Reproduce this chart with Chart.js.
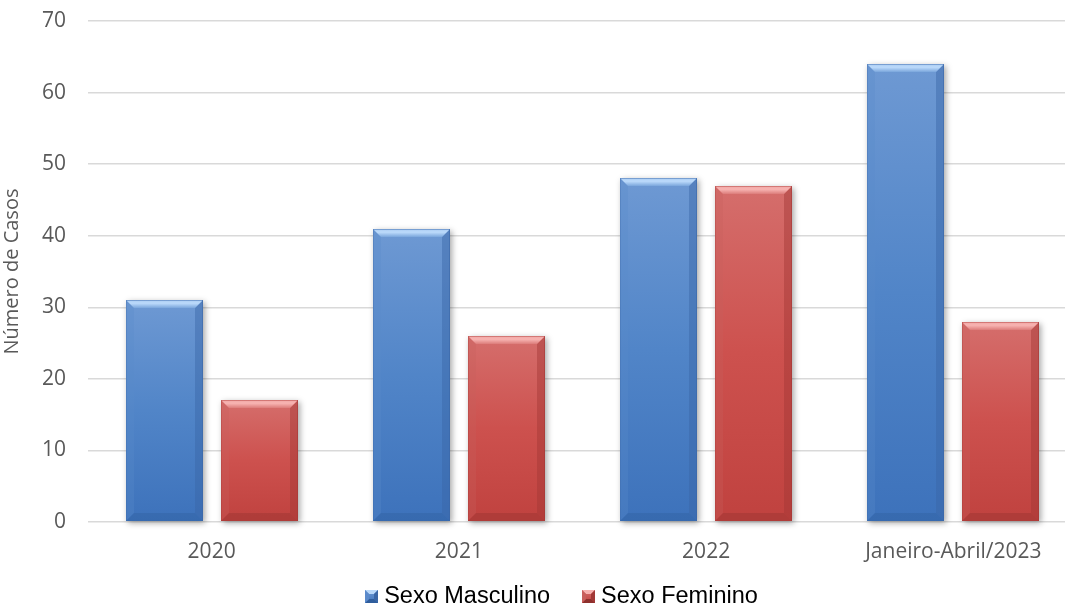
<!DOCTYPE html>
<html>
<head>
<meta charset="utf-8">
<script src="https://cdn.jsdelivr.net/npm/chart.js@4/dist/chart.umd.min.js"></script>
<style>
  html, body { margin: 0; padding: 0; background: #ffffff; overflow: hidden; }
  #wrap { width: 1077px; height: 610px; position: relative; }
</style>
</head>
<body>
<div id="wrap"><canvas id="chart"></canvas></div>
<script>
// Casos por ano e sexo
const categories = ['2020', '2021', '2022', 'Janeiro-Abril/2023'];
const masculino = [31, 41, 48, 64];
const feminino = [17, 26, 47, 28];
const yTicks = [0, 10, 20, 30, 40, 50, 60, 70];
const seriesNames = ['Sexo Masculino', 'Sexo Feminino'];

const palettes = [
  { // azul
    bodyTop: '#6e99d3', bodyMid: '#5185c8', bodyBot: '#3d72bb',
    edge: '#5a85c0', bevelTopA: '#b8d7f9', bevelTopB: '#7aa6dc',
    left: '#5b8acb', right: '#3a66a6', bottom: '#2f5d9c'
  },
  { // vermelho
    bodyTop: '#d56e6c', bodyMid: '#cd514e', bodyBot: '#c0423f',
    edge: '#c45d5b', bevelTopA: '#f6b1af', bevelTopB: '#dc7c7a',
    left: '#c85f5c', right: '#a23836', bottom: '#8e302d'
  }
];

function bevelRect(ctx, x0, x1, y0, y1, p, bev) {
  const b = Math.max(0, Math.min(bev, (y1 - y0) / 2, (x1 - x0) / 2));
  // body with soft drop shadow
  ctx.save();
  ctx.shadowColor = 'rgba(0,0,0,0.35)';
  ctx.shadowBlur = 6;
  ctx.shadowOffsetX = 2;
  ctx.shadowOffsetY = 2;
  const g = ctx.createLinearGradient(0, y0, 0, y1);
  g.addColorStop(0, p.bodyTop);
  g.addColorStop(0.5, p.bodyMid);
  g.addColorStop(1, p.bodyBot);
  ctx.fillStyle = g;
  ctx.fillRect(x0, y0, x1 - x0, y1 - y0);
  ctx.restore();
  if (b <= 0) return;
  ctx.save();
  // left side
  ctx.beginPath();
  ctx.moveTo(x0, y0); ctx.lineTo(x0 + b, y0 + b); ctx.lineTo(x0 + b, y1 - b); ctx.lineTo(x0, y1); ctx.closePath();
  ctx.globalAlpha = 0.3; ctx.fillStyle = p.left; ctx.fill();
  // right side
  ctx.beginPath();
  ctx.moveTo(x1, y0); ctx.lineTo(x1 - b, y0 + b); ctx.lineTo(x1 - b, y1 - b); ctx.lineTo(x1, y1); ctx.closePath();
  ctx.globalAlpha = 0.45; ctx.fillStyle = p.right; ctx.fill();
  // bottom
  ctx.beginPath();
  ctx.moveTo(x0, y1); ctx.lineTo(x0 + b, y1 - b); ctx.lineTo(x1 - b, y1 - b); ctx.lineTo(x1, y1); ctx.closePath();
  ctx.globalAlpha = 0.35; ctx.fillStyle = p.bottom; ctx.fill();
  // top
  ctx.globalAlpha = 1;
  ctx.beginPath();
  ctx.moveTo(x0, y0); ctx.lineTo(x1, y0); ctx.lineTo(x1 - b, y0 + b); ctx.lineTo(x0 + b, y0 + b); ctx.closePath();
  const gt = ctx.createLinearGradient(0, y0, 0, y0 + b);
  gt.addColorStop(0, p.edge);
  gt.addColorStop(0.2, p.bevelTopA);
  gt.addColorStop(0.45, p.bevelTopA);
  gt.addColorStop(1, p.bevelTopB);
  ctx.fillStyle = gt; ctx.fill();
  // thin outline on the sides
  ctx.globalAlpha = 0.55;
  ctx.fillStyle = p.right;
  ctx.fillRect(x1 - 1, y0, 1, y1 - y0);
  ctx.globalAlpha = 0.3;
  ctx.fillRect(x0, y0, 1, y1 - y0);
  ctx.restore();
}

function drawIcon(ctx, x, y, s, p) {
  const b = 4;
  const g = ctx.createLinearGradient(0, y, 0, y + s);
  g.addColorStop(0, p.bodyTop); g.addColorStop(1, p.bodyBot);
  ctx.fillStyle = g; ctx.fillRect(x, y, s, s);
  ctx.beginPath(); ctx.moveTo(x, y); ctx.lineTo(x + s, y); ctx.lineTo(x + s - b, y + b); ctx.lineTo(x + b, y + b); ctx.closePath();
  ctx.fillStyle = p.bevelTopA; ctx.fill();
  ctx.beginPath(); ctx.moveTo(x + s, y); ctx.lineTo(x + s - b, y + b); ctx.lineTo(x + s - b, y + s - b); ctx.lineTo(x + s, y + s); ctx.closePath();
  ctx.fillStyle = p.right; ctx.fill();
  ctx.beginPath(); ctx.moveTo(x, y + s); ctx.lineTo(x + b, y + s - b); ctx.lineTo(x + s - b, y + s - b); ctx.lineTo(x + s, y + s); ctx.closePath();
  ctx.fillStyle = p.bottom; ctx.fill();
  ctx.beginPath(); ctx.moveTo(x, y); ctx.lineTo(x + b, y + b); ctx.lineTo(x + b, y + s - b); ctx.lineTo(x, y + s); ctx.closePath();
  ctx.fillStyle = p.left; ctx.fill();
}

// Draws each bar with a bevelled, shaded look using the bar elements' geometry
const bevelBars = {
  id: 'bevelBars',
  afterDatasetsDraw(chart) {
    const ctx = chart.ctx;
    ctx.save();
    chart.data.datasets.forEach((ds, i) => {
      const meta = chart.getDatasetMeta(i);
      if (meta.hidden) return;
      meta.data.forEach(el => {
        const { x, y, base, width } = el.getProps(['x', 'y', 'base', 'width'], true);
        const x0 = Math.round(x - width / 2), x1 = Math.round(x + width / 2);
        bevelRect(ctx, x0, x1, Math.round(Math.min(y, base)), Math.round(Math.max(y, base)), palettes[i], 8);
      });
    });
    ctx.restore();
  }
};

// Bottom legend: bevelled square marker followed by the series name
const bottomLegend = {
  id: 'bottomLegend',
  afterDraw(chart) {
    const ctx = chart.ctx;
    const font = '23.5px "Liberation Sans", Arial, sans-serif';
    const box = 13, gapText = 6, gapItem = 32;
    ctx.save();
    ctx.font = font;
    const widths = seriesNames.map(t => ctx.measureText(t).width);
    const total = widths.reduce((a, w) => a + box + gapText + w, 0) + gapItem * (seriesNames.length - 1);
    const centre = chart.width / 2 + 23;
    let x = centre - total / 2;
    const cy = chart.height - 14;
    ctx.textBaseline = 'middle';
    seriesNames.forEach((t, i) => {
      drawIcon(ctx, Math.round(x), Math.round(cy - box / 2), box, palettes[i]);
      x += box + gapText;
      ctx.fillStyle = '#000000';
      ctx.fillText(t, x, cy + 1);
      x += widths[i] + gapItem;
    });
    ctx.restore();
  }
};

const ctx = document.getElementById('chart').getContext('2d');
new Chart(ctx, {
  type: 'bar',
  data: {
    labels: categories,
    datasets: [
      { label: seriesNames[0], data: masculino, backgroundColor: 'rgba(0,0,0,0)', borderWidth: 0 },
      { label: seriesNames[1], data: feminino, backgroundColor: 'rgba(0,0,0,0)', borderWidth: 0 }
    ]
  },
  options: {
    responsive: true,
    maintainAspectRatio: false,
    animation: false,
    devicePixelRatio: 1,
    categoryPercentage: 0.769,
    barPercentage: 0.81,
    layout: { padding: { top: 0, right: 0, left: 0, bottom: 44 } },
    plugins: {
      tooltip: { enabled: false },
      legend: { display: false }
    },
    scales: {
      x: {
        grid: { display: false, drawTicks: false },
        border: { display: false },
        afterFit: (scale) => { scale.height = 44; scale.paddingTop = 0; scale.paddingBottom = 0; },
        ticks: {
          color: '#595959',
          padding: 17,
          maxRotation: 0,
          font: { family: '"Open Sans", sans-serif', size: 21 }
        }
      },
      y: {
        min: 0, max: 70,
        afterBuildTicks: (scale) => { scale.ticks = yTicks.map(v => ({ value: v })); },
        afterFit: (scale) => { scale.width = 88; scale.paddingTop = 21; scale.paddingBottom = 0; },
        grid: { color: '#d9d9d9', lineWidth: 1.5, drawTicks: false },
        border: { display: false },
        title: {
          display: true, text: 'Número de Casos', color: '#595959',
          font: { family: '"Open Sans", sans-serif', size: 20 }, padding: 0
        },
        ticks: {
          color: '#595959',
          padding: 22,
          font: { family: '"Open Sans", sans-serif', size: 21 }
        }
      }
    }
  },
  plugins: [bevelBars, bottomLegend]
});
</script>
</body>
</html>
